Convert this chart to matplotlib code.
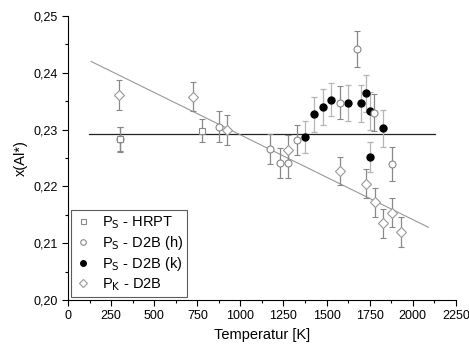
import matplotlib
matplotlib.use("Agg")
import matplotlib.pyplot as plt
import numpy as np
from matplotlib.ticker import MultipleLocator, FuncFormatter

plt.rcParams['font.family'] = ['Liberation Sans', 'DejaVu Sans']

# Ps - HRPT (open squares)
hrpt_T = [300, 775]
hrpt_x = [0.2283, 0.2298]
hrpt_e = [0.0022, 0.0020]

# Ps - D2B (h) (open circles)
h_T = [300, 874, 1174, 1227, 1275, 1326, 1577, 1676, 1777, 1880]
h_x = [0.2283, 0.2305, 0.2266, 0.2241, 0.2241, 0.2282, 0.2347, 0.2442, 0.2330, 0.2240]
h_e = [0.0021, 0.0027, 0.0026, 0.0026, 0.0026, 0.0026, 0.0029, 0.0031, 0.0032, 0.0030]

# Ps - D2B (k) (filled circles)
k_T = [1374, 1426, 1477, 1527, 1626, 1701, 1727, 1752, 1752, 1829]
k_x = [0.2287, 0.2327, 0.2340, 0.2353, 0.2347, 0.2346, 0.2364, 0.2333, 0.2252, 0.2302]
k_e = [0.0028, 0.0031, 0.0032, 0.0029, 0.0032, 0.0032, 0.0033, 0.0033, 0.0027, 0.0032]

# Pk - D2B (open diamonds)
d_T = [298, 725, 922, 1275, 1577, 1727, 1779, 1830, 1880, 1930]
d_x = [0.2361, 0.2358, 0.2299, 0.2264, 0.2227, 0.2205, 0.2172, 0.2135, 0.2154, 0.2120]
d_e = [0.0026, 0.0026, 0.0026, 0.0026, 0.0025, 0.0025, 0.0025, 0.0025, 0.0025, 0.0027]

# fitted lines
const_level = 0.2292
const_T = [122, 2130]
lin_T = [134, 2091]
lin_x = [0.2420, 0.2128]

fig = plt.figure(figsize=(4.69, 3.45), dpi=100)
ax = fig.add_axes([0.145, 0.1304, 0.827, 0.8232])

ax.plot(const_T, [const_level, const_level], color='#222222', lw=0.9, zorder=1)
ax.plot(lin_T, lin_x, color='#999999', lw=0.8, zorder=1)

ekw = dict(elinewidth=0.9, capsize=2.0, capthick=0.9, ls='none')
ax.errorbar(k_T, k_x, yerr=k_e, fmt='o', ms=5, mfc='black', mec='black',
            ecolor='#b5b5b5', zorder=3, label=r'P$_{\rm S}$ - D2B (k)', **ekw)
ax.errorbar(h_T, h_x, yerr=h_e, fmt='o', ms=5, mfc='white', mec='#888888', mew=0.8,
            ecolor='#888888', zorder=4, label=r'P$_{\rm S}$ - D2B (h)', **ekw)
ax.errorbar(hrpt_T, hrpt_x, yerr=hrpt_e, fmt='s', ms=4.5, mfc='white', mec='#888888', mew=0.8,
            ecolor='#888888', zorder=4, label=r'P$_{\rm S}$ - HRPT', **ekw)
ax.errorbar(d_T, d_x, yerr=d_e, fmt='D', ms=4.8, mfc='white', mec='#999999', mew=0.8,
            ecolor='#888888', zorder=4, label=r'P$_{\rm K}$ - D2B', **ekw)

ax.set_xlim(0, 2250)
ax.set_ylim(0.20, 0.25)
ax.xaxis.set_major_locator(MultipleLocator(250))
ax.xaxis.set_minor_locator(MultipleLocator(125))
ax.yaxis.set_major_locator(MultipleLocator(0.01))
ax.yaxis.set_minor_locator(MultipleLocator(0.005))
ax.yaxis.set_major_formatter(FuncFormatter(lambda v, p: f"{v:.2f}".replace('.', ',')))
for s in ['top', 'right']:
    ax.spines[s].set_visible(False)
ax.tick_params(which='major', length=4, width=0.8, labelsize=9, direction='out')
ax.tick_params(which='minor', length=2.5, width=0.8, direction='out')
ax.set_xlabel('Temperatur [K]', fontsize=10.5, labelpad=4)
ax.set_ylabel('x(Al*)', fontsize=10.5, labelpad=4)

h, l = ax.get_legend_handles_labels()
order = [2, 1, 0, 3]
leg = ax.legend([h[i][0] for i in order], [l[i] for i in order], loc='lower left',
                fontsize=10.5, frameon=True, fancybox=False, edgecolor='#333333',
                borderaxespad=0.2, handlelength=1.0, handletextpad=0.8,
                labelspacing=0.2, markerscale=0.8, borderpad=0.3)
leg.get_frame().set_linewidth(0.8)

fig.savefig('out.png', dpi=100)
